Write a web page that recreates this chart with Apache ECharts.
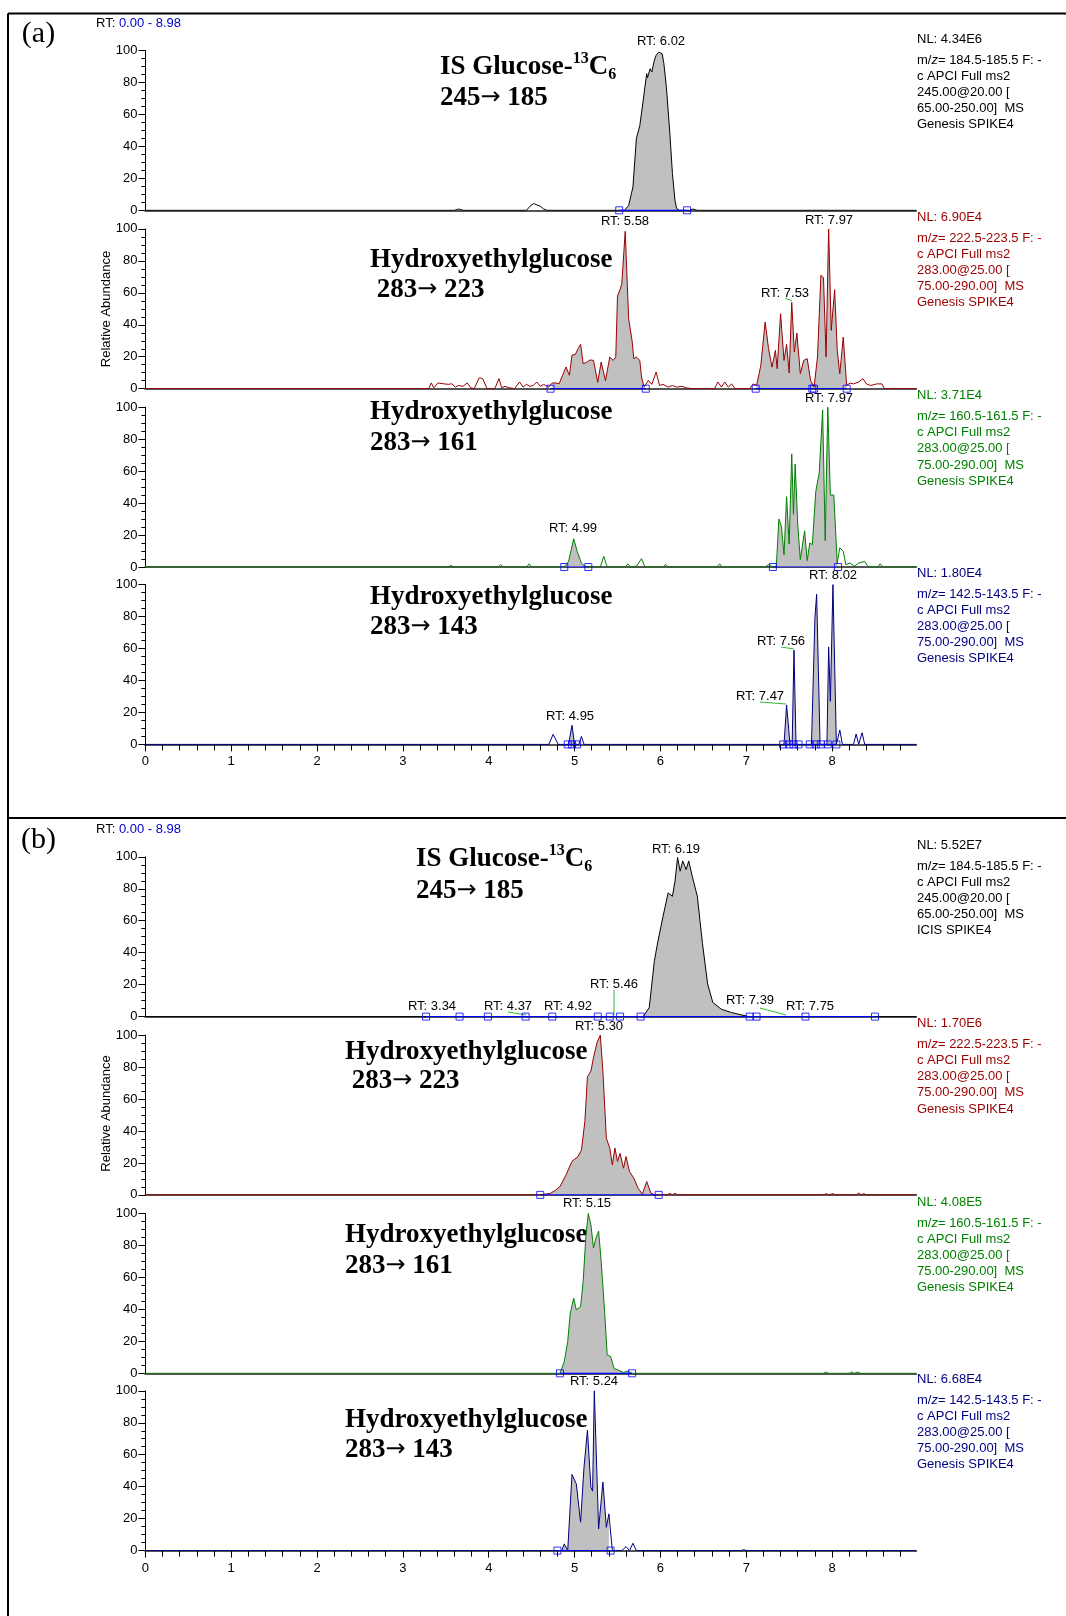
<!DOCTYPE html>
<html><head><meta charset="utf-8">
<script src="https://cdn.jsdelivr.net/npm/echarts@6.0.0/dist/echarts.min.js"></script>
<style>html,body{margin:0;padding:0;background:#fff}#c{width:1066px;height:1616px}</style>
</head><body><div id="c"></div><script>
// ---------- DATA (retention time [min], relative abundance [%]) ----------
const RT_MAX = 8.98;
const xTicks = [0,1,2,3,4,5,6,7,8];
const yTicks = [0,20,40,60,80,100];

// Panel (a)
const a_is = [[0,0],[3.60,0],[3.65,0.8],[3.70,0],[4.44,0],[4.48,2.5],[4.52,4.2],[4.56,3.4],[4.60,2.6],[4.64,0.8],[4.68,0],[5.58,0],[5.63,3],[5.68,14.6],[5.72,45],[5.76,53],[5.78,54],[5.80,69],[5.84,85.5],[5.85,83],[5.88,88.6],[5.90,86.6],[5.93,94],[5.95,97],[5.96,96],[5.98,99],[6.00,100],[6.02,98],[6.04,92],[6.07,77],[6.11,48],[6.14,23],[6.17,6],[6.19,1],[6.22,0],[6.34,0],[6.38,0.8],[6.43,0],[8.98,0]];
const a_223 = [[0,0],[3.30,0],[3.33,3.6],[3.36,0.6],[3.41,3.6],[3.47,3.1],[3.53,2.7],[3.57,3.1],[3.61,1],[3.65,2],[3.70,1.5],[3.75,3.6],[3.79,0.6],[3.83,0],[3.89,6.9],[3.93,6.3],[3.98,0],[4.07,0],[4.12,6.3],[4.15,0.6],[4.19,1.5],[4.24,0.6],[4.30,0],[4.36,4.2],[4.40,1],[4.44,2.7],[4.48,1.5],[4.52,2],[4.56,4.2],[4.60,1.5],[4.64,2.7],[4.70,1],[4.74,3.6],[4.78,3.6],[4.82,3.1],[4.86,8.4],[4.90,13.6],[4.94,8.4],[4.97,21],[5.01,21.5],[5.04,25],[5.07,27.8],[5.10,15.6],[5.14,16.5],[5.18,18],[5.22,17.7],[5.27,4],[5.31,16.7],[5.36,5],[5.41,19.8],[5.45,17.7],[5.48,19.8],[5.50,58],[5.53,62],[5.55,65.6],[5.59,98.5],[5.63,43.8],[5.67,30],[5.69,18.8],[5.72,19.8],[5.76,17.7],[5.78,7.3],[5.81,1],[5.86,5.2],[5.90,2.7],[5.95,10.4],[5.99,2],[6.03,2.7],[6.09,1],[6.14,2],[6.19,1],[6.25,1.5],[6.30,0.5],[6.38,0],[6.63,0],[6.67,4.2],[6.71,1],[6.75,4.2],[6.79,1],[6.83,3],[6.87,0],[7.04,0],[7.08,3],[7.12,2],[7.17,14.6],[7.22,41.7],[7.26,25],[7.30,13.5],[7.34,24],[7.36,12.5],[7.40,46.9],[7.44,17.7],[7.47,27.7],[7.50,9.8],[7.53,54],[7.56,23],[7.59,34.8],[7.63,9.4],[7.67,17.7],[7.71,18.8],[7.75,5.2],[7.79,1],[7.83,19.8],[7.87,71],[7.90,69.4],[7.93,19.8],[7.96,100],[7.99,36.5],[8.03,62],[8.06,24],[8.09,9.4],[8.13,32.3],[8.17,2],[8.21,3.5],[8.25,3],[8.31,4.2],[8.36,6.3],[8.40,3],[8.45,2],[8.52,3],[8.58,3],[8.61,0],[8.98,0]];
const a_161 = [[0,0],[3.53,0],[3.56,1],[3.59,0],[4.11,0],[4.14,1.5],[4.17,0],[4.44,0],[4.47,2],[4.50,0],[4.86,0],[4.89,0.5],[4.93,3.5],[4.99,17.7],[5.03,9.8],[5.08,2.5],[5.12,0.5],[5.18,0],[5.30,0],[5.34,6.7],[5.38,0],[5.59,0],[5.62,2],[5.65,0],[5.72,0.5],[5.78,5.2],[5.82,0],[6.03,0],[6.06,1.7],[6.09,0],[6.66,0],[6.69,2],[6.72,0],[7.22,0],[7.26,1.5],[7.31,0],[7.35,0],[7.38,30],[7.41,25.4],[7.44,7.7],[7.47,44],[7.50,14.4],[7.53,70.8],[7.55,33],[7.57,64.4],[7.60,26.5],[7.63,4.6],[7.68,22.7],[7.71,4],[7.74,15],[7.77,14],[7.81,47.3],[7.85,58.8],[7.89,98.3],[7.92,16.5],[7.95,100],[7.98,45],[8.02,45],[8.06,2.5],[8.09,12],[8.13,9.8],[8.16,1.5],[8.21,2.5],[8.26,0.5],[8.31,2.5],[8.38,3.5],[8.42,0],[8.53,0],[8.56,2],[8.59,0],[8.98,0]];
const a_143 = [[0,0],[4.70,0],[4.75,6.3],[4.81,0],[4.93,0],[4.97,12],[5.00,0],[5.05,0],[5.08,5],[5.11,0],[7.44,0],[7.47,24.7],[7.51,0],[7.535,0],[7.556,59],[7.58,0],[7.76,0],[7.80,79],[7.82,94],[7.86,0],[7.94,0],[7.96,61],[7.98,27],[8.01,100],[8.05,0],[8.09,9],[8.12,0],[8.25,0],[8.28,6.5],[8.31,0],[8.35,7.3],[8.38,0],[8.98,0]];

// Panel (b)
const b_is = [[0,0],[5.80,0],[5.87,5.7],[5.93,35],[5.97,46.8],[6.03,62.6],[6.09,77.4],[6.14,75.3],[6.17,84.8],[6.20,99.6],[6.23,91],[6.26,97.4],[6.30,92],[6.33,97.4],[6.37,88],[6.43,75.3],[6.49,45.7],[6.55,20.5],[6.61,8.9],[6.71,4.6],[6.83,2.5],[6.95,1],[7.03,0],[8.98,0]];
const b_223 = [[0,0],[4.59,0],[4.66,0.5],[4.72,1],[4.78,3],[4.83,5.2],[4.90,12.5],[4.97,21],[5.04,24],[5.08,28],[5.12,46],[5.15,74],[5.19,77.4],[5.22,85.8],[5.26,95],[5.30,100],[5.33,77.4],[5.37,35.5],[5.41,29.3],[5.44,18.8],[5.47,29.3],[5.50,21],[5.53,26],[5.57,16.7],[5.60,24],[5.64,14.6],[5.69,10.5],[5.74,4.2],[5.79,0.4],[5.84,8.4],[5.89,1],[5.94,0],[6.08,0],[6.11,1],[6.14,0],[6.17,1],[6.20,0],[7.90,0],[7.93,0.8],[7.96,0],[8.01,0.8],[8.04,0],[8.28,0],[8.31,1.2],[8.34,0],[8.37,0.8],[8.40,0],[8.98,0]];
const b_161 = [[0,0],[4.83,0],[4.88,7.3],[4.92,19.9],[4.95,37.7],[4.99,47],[5.02,39.7],[5.07,41.8],[5.10,57.5],[5.13,84.7],[5.16,100],[5.19,93],[5.22,78.5],[5.25,84.7],[5.28,89],[5.31,70],[5.35,38.7],[5.38,11.5],[5.42,10.5],[5.46,3],[5.51,2],[5.57,0.5],[5.62,1.5],[5.67,0],[7.90,0],[7.93,0.8],[7.96,0],[8.20,0],[8.23,0.8],[8.26,0],[8.30,0.8],[8.33,0],[8.98,0]];
const b_143 = [[0,0],[4.85,0],[4.88,4.2],[4.92,0],[4.97,47.7],[5.02,41.8],[5.07,17.8],[5.11,52.3],[5.15,75.3],[5.19,39.7],[5.21,37.2],[5.23,100],[5.28,13.6],[5.33,42.9],[5.37,14.6],[5.40,23],[5.44,0],[5.55,0],[5.60,2.5],[5.64,0],[5.68,4.6],[5.72,0],[6.94,0],[6.97,0.6],[7.00,0],[8.98,0]];

// integrated regions (grey fill) and baseline markers
const fillRanges = [
  [[5.52,6.31]],
  [[4.72,5.83],[7.11,8.17]],
  [[4.88,5.16],[7.31,8.07]],
  [[4.92,5.03],[7.43,7.61],[7.74,8.05]],
  [[5.77,7.04]],
  [[4.60,5.98]],
  [[4.83,5.67]],
  [[4.80,5.42]]
];
const baselineRanges = [
  [[5.52,6.31]],
  [[4.72,5.83],[7.11,8.17]],
  [[4.88,5.16],[7.31,8.07]],
  [[4.92,5.03],[7.43,7.61],[7.74,8.05]],
  [[3.27,8.50]],
  [[4.60,5.98]],
  [[4.83,5.67]],
  [[4.80,5.42]]
];
const markerTimes = [
  [5.52,6.31],
  [4.72,5.83,7.11,7.77,7.79,8.17],
  [4.88,5.16,7.31,8.07],
  [4.92,4.97,5.03,7.43,7.50,7.55,7.61,7.74,7.81,7.87,7.95,8.05],
  [3.27,3.66,3.99,4.43,4.74,5.27,5.41,5.53,5.77,7.04,7.12,7.69,8.50],
  [4.60,5.98],
  [4.83,5.67],
  [4.80,5.42]
];

const titleLines = [
  ['{m|IS Glucose-}{sup|13}{m|C}{sub|6}', ['245', ' 185']],
  ['Hydroxyethylglucose', [' 283', ' 223']],
  ['Hydroxyethylglucose', ['283', ' 161']],
  ['Hydroxyethylglucose', ['283', ' 143']],
  ['{m|IS Glucose-}{sup|13}{m|C}{sub|6}', ['245', ' 185']],
  ['Hydroxyethylglucose', [' 283', ' 223']],
  ['Hydroxyethylglucose', ['283', ' 161']],
  ['Hydroxyethylglucose', ['283', ' 143']]
];
const infoLines = [
  ['NL: 4.34E6','184.5-185.5 F: -','c APCI Full ms2','245.00@20.00 [','65.00-250.00]  MS','Genesis SPIKE4'],
  ['NL: 6.90E4','222.5-223.5 F: -','c APCI Full ms2','283.00@25.00 [','75.00-290.00]  MS','Genesis SPIKE4'],
  ['NL: 3.71E4','160.5-161.5 F: -','c APCI Full ms2','283.00@25.00 [','75.00-290.00]  MS','Genesis SPIKE4'],
  ['NL: 1.80E4','142.5-143.5 F: -','c APCI Full ms2','283.00@25.00 [','75.00-290.00]  MS','Genesis SPIKE4'],
  ['NL: 5.52E7','184.5-185.5 F: -','c APCI Full ms2','245.00@20.00 [','65.00-250.00]  MS','ICIS SPIKE4'],
  ['NL: 1.70E6','222.5-223.5 F: -','c APCI Full ms2','283.00@25.00 [','75.00-290.00]  MS','Genesis SPIKE4'],
  ['NL: 4.08E5','160.5-161.5 F: -','c APCI Full ms2','283.00@25.00 [','75.00-290.00]  MS','Genesis SPIKE4'],
  ['NL: 6.68E4','142.5-143.5 F: -','c APCI Full ms2','283.00@25.00 [','75.00-290.00]  MS','Genesis SPIKE4']
];
const rtNoteTexts = ['RT: 6.02','RT: 5.58','RT: 7.97','RT: 7.53','RT: 7.97','RT: 4.99','RT: 8.02','RT: 7.56','RT: 7.47','RT: 4.95',
  'RT: 3.34','RT: 4.37','RT: 4.92','RT: 5.46','RT: 6.19','RT: 7.39','RT: 7.75','RT: 5.30','RT: 5.15','RT: 5.24'];

// ---------- LAYOUT ----------
const traces = [a_is, a_223, a_161, a_143, b_is, b_223, b_161, b_143];
const traceColors = ['#000000','#990000','#008000','#000080','#000000','#990000','#008000','#000080'];
const gridTops = [50.5, 228.9, 407.2, 584.6, 856.8, 1035.1, 1213.5, 1390.8];
const GL = 145.4, GW = 770.8, GH = 159.8;
const bottomGrids = [3, 7];
const SANS = '"Liberation Sans", Arial, Helvetica, sans-serif';
const SERIF = '"Liberation Serif", "Times New Roman", "DejaVu Serif", serif';
const FS = 13;

const rtNotePos = [[661,41],[625,221],[829,220],[785,293],[829,398],[573,528],[833,575],[781,641],[760,696],[570,716],
  [432,1006],[508,1006],[568,1006],[614,984],[676,849],[750,1000],[810,1006],[599,1026],[587,1203],[594,1381]];
const leaders = [[785,298,792,301],[781,647,794,649],[760,702,786,704],[508,1012,526,1015],[614,990,614,1015],[760,1008,786,1015]];
const titlePos = [[440,67,440,98],[370,260,370,290],[370,412,370,443],[370,597,370,627],[416,859,416,891],[345,1052,345,1081],[345,1235,345,1266],[345,1420,345,1450]];

const grid = [], xAxis = [], yAxis = [], series = [];
gridTops.forEach((t, i) => {
  grid.push({left: GL, top: t, width: GW, height: GH, containLabel: false});
  const isBottom = bottomGrids.includes(i);
  xAxis.push({
    type: 'value', gridIndex: i, min: 0, max: RT_MAX, interval: 1, position: 'bottom',
    axisLine: {show: true, onZero: false, lineStyle: {color: '#555555', width: 2}},
    axisTick: {show: isBottom, inside: false, customValues: xTicks, length: 7, lineStyle: {color: '#000', width: 1}},
    minorTick: {show: isBottom, splitNumber: 5, length: 6, lineStyle: {color: '#000', width: 1}},
    axisLabel: {show: isBottom, customValues: xTicks, margin: 11, fontSize: FS, color: '#000', fontFamily: SANS},
    splitLine: {show: false}, minorSplitLine: {show: false}
  });
  yAxis.push({
    type: 'value', gridIndex: i, min: 0, max: 100, interval: 20,
    axisLine: {show: true, lineStyle: {color: '#000', width: 1}},
    axisTick: {show: true, length: 7, lineStyle: {color: '#000', width: 1}},
    minorTick: {show: true, splitNumber: 4, length: 4, lineStyle: {color: '#000', width: 1}},
    axisLabel: {margin: 8, fontSize: FS, color: '#000', fontFamily: SANS},
    splitLine: {show: false}, minorSplitLine: {show: false}
  });
});

traces.forEach((tr, i) => {
  fillRanges[i].forEach(r => {
    series.push({
      type: 'line', xAxisIndex: i, yAxisIndex: i, silent: true, symbol: 'none', z: 1,
      data: tr.filter(p => p[0] >= r[0] && p[0] <= r[1]),
      lineStyle: {width: 0}, areaStyle: {color: '#c0c0c0', opacity: 1}
    });
  });
  series.push({
    type: 'line', xAxisIndex: i, yAxisIndex: i, silent: true, symbol: 'none', z: 3,
    data: tr, lineStyle: {color: traceColors[i], width: 1}
  });
  baselineRanges[i].forEach(r => {
    series.push({
      type: 'line', xAxisIndex: i, yAxisIndex: i, silent: true, symbol: 'none', z: 4,
      data: [[r[0], 0], [r[1], 0]], lineStyle: {color: '#0000ff', width: 1.2}
    });
  });
  series.push({
    type: 'scatter', xAxisIndex: i, yAxisIndex: i, silent: true, z: 5,
    symbol: 'rect', symbolSize: 7,
    data: markerTimes[i].map(t => [t, 0]),
    itemStyle: {color: 'rgba(0,0,0,0)', borderColor: '#0000ff', borderWidth: 1}
  });
});

// ---------- GRAPHIC TEXT ----------
const graphic = [];
const L = (x1,y1,x2,y2,c,w) => graphic.push({type:'line', silent:true, shape:{x1,y1,x2,y2}, style:{stroke:c, lineWidth:w}});
L(8, 13.5, 1066, 13.5, '#000', 2);
L(8, 13.5, 8, 1616, '#000', 2);
L(8, 818, 1066, 818, '#000', 2);

[['(a)', 34, 23], ['(b)', 840, 829]].forEach(([t, y, yr]) => {
  graphic.push({type:'text', silent:true, style:{text:t, x:38.5, y:y, align:'center', verticalAlign:'middle', fontSize:30, fontFamily:SERIF, fill:'#000'}});
  graphic.push({type:'text', silent:true, style:{text:'{k|RT: }{v|0.00 - 8.98}', x:96, y:yr, align:'left', verticalAlign:'middle',
    rich:{k:{fontSize:FS, fontFamily:SANS, fill:'#000'}, v:{fontSize:FS, fontFamily:SANS, fill:'#0000cc'}}}});
});
[309, 1113.5].forEach(y => {
  graphic.push({type:'text', silent:true, x:106, y:y, rotation: Math.PI/2,
    style:{text:'Relative Abundance', x:0, y:0, align:'center', verticalAlign:'middle', fontSize:FS, fontFamily:SANS, fill:'#000'}});
});

const TFS = 27;
const titleRich = {
  m: {fontSize:TFS, fontWeight:'bold', fontFamily:SERIF, lineHeight:32, fill:'#000'},
  ar: {fontSize:24, fontWeight:'normal', fontFamily:'"DejaVu Sans", sans-serif', lineHeight:32, fill:'#000'},
  sup: {fontSize:16, fontWeight:'bold', fontFamily:SERIF, lineHeight:16, verticalAlign:'top', fill:'#000'},
  sub: {fontSize:16, fontWeight:'bold', fontFamily:SERIF, lineHeight:16, verticalAlign:'bottom', fill:'#000'}
};
titleLines.forEach((ln, i) => {
  const p = titlePos[i];
  const t1 = ln[0].indexOf('{') === 0 ? ln[0] : '{m|' + ln[0] + '}';
  graphic.push({type:'text', silent:true, style:{text:t1, x:p[0], y:p[1], align:'left', verticalAlign:'middle', rich:titleRich}});
  const t2 = '{m|' + ln[1][0] + '}{ar|\u2192}{m|' + ln[1][1] + '}';
  graphic.push({type:'text', silent:true, style:{text:t2, x:p[2], y:p[3], align:'left', verticalAlign:'middle', rich:titleRich}});
});

infoLines.forEach((ln, i) => {
  const top = gridTops[i], c = traceColors[i];
  ln.forEach((s, k) => {
    const y = k === 0 ? top - 11.5 : top + 9.5 + (k - 1) * 16.1;
    if (k === 1) {
      graphic.push({type:'text', silent:true, style:{text:'{n|m/}{i|z}{n|= ' + s + '}', x:917, y:y, align:'left', verticalAlign:'middle',
        rich:{n:{fontSize:FS, fontFamily:SANS, fill:c}, i:{fontSize:FS, fontFamily:SANS, fontStyle:'italic', fill:c}}}});
    } else {
      graphic.push({type:'text', silent:true, style:{text:s, x:917, y:y, align:'left', verticalAlign:'middle', fontSize:FS, fontFamily:SANS, fill:c}});
    }
  });
});

rtNoteTexts.forEach((s, k) => {
  const p = rtNotePos[k];
  graphic.push({type:'text', silent:true, z:10, style:{text:s, x:p[0], y:p[1], align:'center', verticalAlign:'middle', fontSize:FS, fontFamily:SANS, fill:'#000'}});
});
leaders.forEach(l => L(l[0], l[1], l[2], l[3], '#33bb33', 1));

const chart = echarts.init(document.getElementById('c'), null, {renderer: 'canvas'});
chart.setOption({
  backgroundColor: '#ffffff',
  animation: false,
  grid, xAxis, yAxis, series, graphic
});
</script></body></html>
